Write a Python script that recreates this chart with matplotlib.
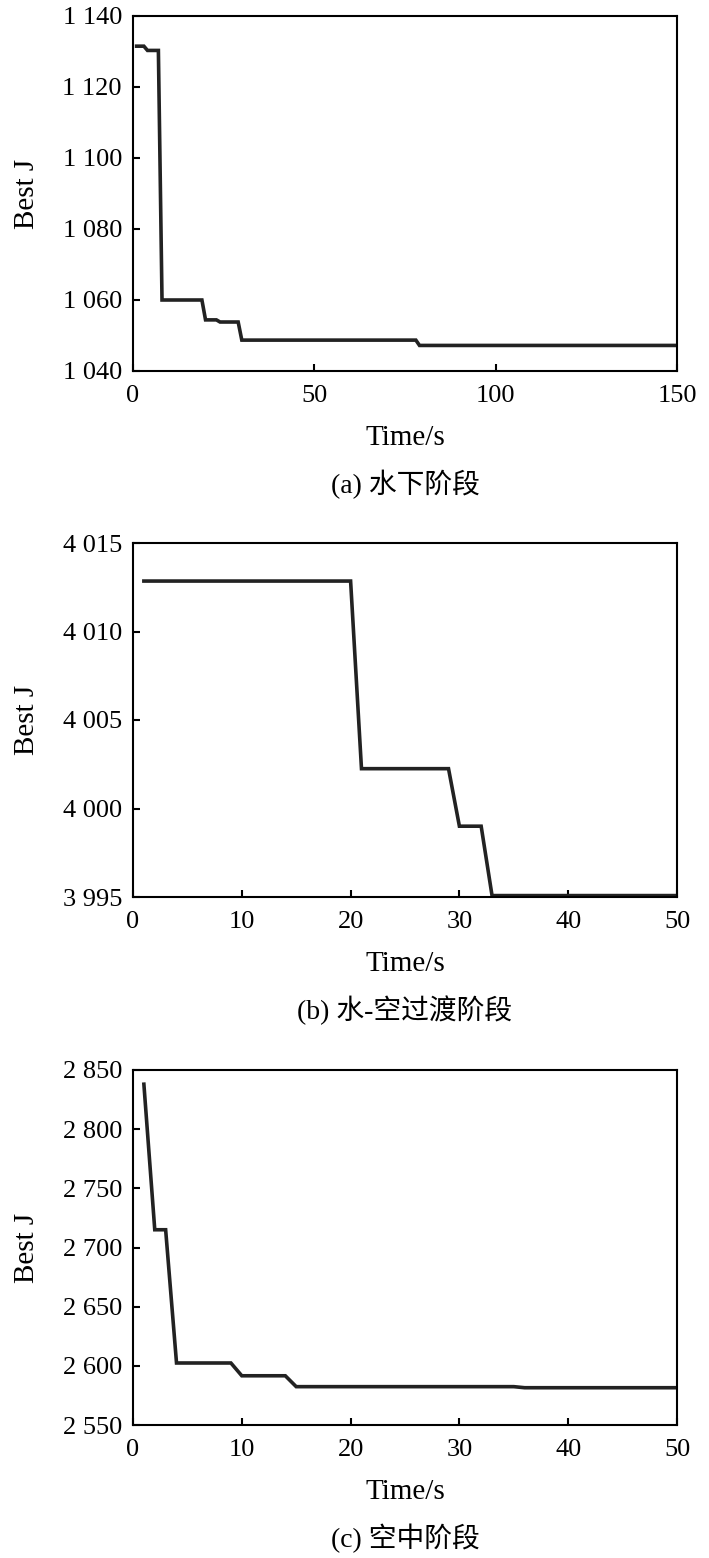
import matplotlib
matplotlib.use("Agg")
import matplotlib.pyplot as plt
from matplotlib.ticker import FuncFormatter

plt.rcParams['font.family'] = ['Liberation Serif', 'Noto Sans CJK SC']
plt.rcParams['font.size'] = 19

# (a) underwater stage
t_a = [1, 3, 4, 7, 8, 19, 20, 23, 24, 29, 30, 78, 79, 150]
j_a = [1131.5, 1131.5, 1130.3, 1130.3, 1060.0, 1060.0, 1054.4, 1054.4,
       1053.8, 1053.8, 1048.7, 1048.7, 1047.2, 1047.2]

# (b) water-air transition stage
t_b = [1, 20, 21, 29, 30, 32, 33, 50]
j_b = [4012.85, 4012.85, 4002.25, 4002.25, 3999.0, 3999.0, 3995.08, 3995.08]

# (c) air stage
t_c = [1, 2, 3, 4, 9, 10, 14, 15, 35, 36, 50]
j_c = [2838.0, 2715.0, 2715.0, 2602.4, 2602.4, 2591.6, 2591.6, 2582.4,
       2582.4, 2581.5, 2581.5]

captions = ['(a) 水下阶段', '(b) 水-空过渡阶段', '(c) 空中阶段']
xlims = [(0, 150), (0, 50), (0, 50)]
ylims = [(1040, 1140), (3995, 4015), (2550, 2850)]
xticks = [[0, 50, 100, 150], [0, 10, 20, 30, 40, 50], [0, 10, 20, 30, 40, 50]]
yticks = [list(range(1040, 1141, 20)), list(range(3995, 4016, 5)),
          list(range(2550, 2851, 50))]
series = [(t_a, j_a), (t_b, j_b), (t_c, j_c)]

W, H = 709, 1558
fig = plt.figure(figsize=(W / 100, H / 100), dpi=100)
boxes = [(16, 371), (543, 897), (1070, 1425)]


def thousands(v, pos):
    return f"{v:,.0f}".replace(",", " ")


for i, (top, bot) in enumerate(boxes):
    ax = fig.add_axes([133 / W, 1 - bot / H, (677 - 133) / W, (bot - top) / H])
    t, j = series[i]
    ax.plot(t, j, color='#222222', lw=2.6, solid_joinstyle='miter')
    ax.set_xlim(*xlims[i])
    ax.set_ylim(*ylims[i])
    ax.set_xticks(xticks[i])
    ax.set_yticks(yticks[i])
    ax.yaxis.set_major_formatter(FuncFormatter(thousands))
    ax.tick_params(direction='in', length=5, width=1.5, labelsize=19)
    ax.tick_params(axis='x', pad=10)
    ax.tick_params(axis='y', pad=8)
    for s in ax.spines.values():
        s.set_linewidth(1.5)
    ax.set_xlabel('Time/s', fontsize=21, labelpad=13)
    ax.set_ylabel('Best J', fontsize=21, labelpad=16)
    ax.text(0.5, -0.32, captions[i], transform=ax.transAxes, ha='center',
            va='center', fontsize=20)

fig.savefig('out.png', dpi=100)
